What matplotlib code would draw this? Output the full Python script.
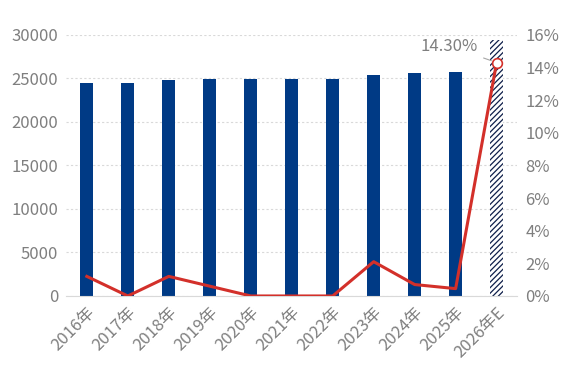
import matplotlib.pyplot as plt
import numpy as np

plt.rcParams['font.family'] = ['Noto Sans CJK SC', 'DejaVu Sans']
plt.rcParams['hatch.linewidth'] = 0.9

years = ['2016年', '2017年', '2018年', '2019年', '2020年', '2021年', '2022年',
         '2023年', '2024年', '2025年', '2026年E']
values = [24500, 24500, 24750, 24950, 24950, 24950, 24950, 25400, 25650, 25750, 29400]
growth = [1.2, 0.0, 1.2, 0.6, 0.0, 0.0, 0.0, 2.1, 0.7, 0.45, 14.3]

bar_color = '#003A85'
line_color = '#D3302A'
text_color = '#7F7F7F'

fig, ax = plt.subplots(figsize=(5.67, 3.78), dpi=100)
fig.subplots_adjust(left=0.117, right=0.912, top=0.908, bottom=0.217)

x = np.arange(len(years))
ax.bar(x[:-1], values[:-1], width=0.32, color=bar_color, zorder=2)
ax.bar(x[-1], values[-1], width=0.32, color='white', edgecolor='#0F1F4A',
       hatch='//////', linewidth=0, zorder=2)

ax.set_ylim(0, 30000)
ax.set_yticks(range(0, 30001, 5000))
ax.set_xlim(-0.5, len(years) - 0.5)
ax.set_xticks(x)
ax.set_xticklabels(years, rotation=45, ha='right', rotation_mode='anchor')
ax.grid(axis='y', color='#D9D9D9', linestyle=(0, (2, 2)), linewidth=0.8, zorder=0)
for s in ['top', 'right', 'left']:
    ax.spines[s].set_visible(False)
ax.spines['bottom'].set_color('#D9D9D9')
ax.tick_params(axis='both', length=0, labelsize=12, colors=text_color, pad=6)

ax2 = ax.twinx()
ax2.plot(x, growth, color=line_color, linewidth=2.2, zorder=3)
ax2.plot(x[-1], growth[-1], 'o', markersize=7, markerfacecolor='white',
         markeredgecolor=line_color, markeredgewidth=1.2, zorder=4)
ax2.set_ylim(0, 16)
ax2.set_yticks(range(0, 17, 2))
ax2.set_yticklabels([f'{v}%' for v in range(0, 17, 2)])
for s in ['top', 'right', 'left', 'bottom']:
    ax2.spines[s].set_visible(False)
ax2.tick_params(axis='y', length=0, labelsize=12, colors=text_color, pad=6)

ax2.annotate(f'{growth[-1]:.2f}%', xy=(x[-1], growth[-1]), xytext=(x[-1] - 0.45, 15.3),
             ha='right', va='center', fontsize=12, color=text_color,
             arrowprops=dict(arrowstyle='-', color='#A6A6A6', linewidth=0.8,
                             shrinkA=2, shrinkB=4))

plt.savefig('out.png', dpi=100)
